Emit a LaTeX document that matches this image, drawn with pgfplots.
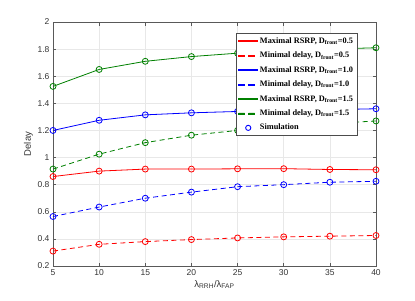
\documentclass[border=0pt]{standalone}
\usepackage{fontspec}
\setmainfont{Liberation Sans}
\newfontfamily\legfont{Liberation Serif}
\usepackage{pgfplots}
\pgfplotsset{compat=1.18}
\definecolor{mgreen}{rgb}{0,0.5,0}
\definecolor{mblue}{rgb}{0,0,1}
\definecolor{mred}{rgb}{1,0,0}
\definecolor{axgray}{gray}{0.35}
\newcommand\legline[2]{\pgfsetstrokecolor{#1}\pgfsetfillcolor{#1}\color{#1}\fill[#1] (0pt,-0.45pt) rectangle (19pt,0.45pt);}
\newcommand\legdash[1]{\pgfsetstrokecolor{#1}\pgfsetfillcolor{#1}\color{#1}\fill[#1] (0pt,-0.45pt) rectangle (6pt,0.45pt) (10pt,-0.45pt) rectangle (16pt,0.45pt);}
\begin{document}
\begin{tikzpicture}
\begin{axis}[
  scale only axis,
  width=323pt, height=244pt,
  xmin=5, xmax=40, ymin=0.2, ymax=2,
  xtick={5,10,...,40},
  ytick={0.2,0.4,...,2.0},
  yticklabels={0.2,0.4,0.6,0.8,1,1.2,1.4,1.6,1.8,2},
  grid=major,
  major grid style={gray!18, line width=0.5pt},
  axis line style={axgray, line width=0.5pt},
  tick style={axgray, line width=0.5pt},
  tick align=inside,
  major tick length=3.5pt,
  tick label style={font=\fontsize{8.5}{10}\selectfont, text=black!80},
  /pgf/number format/assume math mode=true,
  xlabel={λ\textsubscript{RRH}/λ\textsubscript{FAP}},
  ylabel={Delay},
  label style={font=\fontsize{9.5}{11}\selectfont, text=black!80},
  xlabel style={yshift=2pt},
  ylabel style={yshift=-2pt},
  legend style={at={(0.942,0.954)}, anchor=north east,
    font=\legfont\bfseries\fontsize{8.3}{9}\selectfont,
    draw=black!70, fill=white, line width=0.5pt,
    row sep=3.2pt, inner sep=2pt},
  legend cell align=left,
]
\pgfplotsset{
  sim/.style={only marks, mark=o, mark size=3pt, line width=0.8pt, forget plot},
  ln/.style={forget plot, line width=0.8pt},
  dsh/.style={dash pattern=on 5pt off 3.5pt},
}
% legend images
\addlegendimage{legend image code/.code={\legline{mred}{}}}
\addlegendentry{Maximal RSRP, D\textsubscript{front}=0.5}
\addlegendimage{legend image code/.code={\legdash{mred}}}
\addlegendentry{Minimal delay, D\textsubscript{front}=0.5}
\addlegendimage{legend image code/.code={\legline{mblue}{}}}
\addlegendentry{Maximal RSRP, D\textsubscript{front}=1.0}
\addlegendimage{legend image code/.code={\legdash{mblue}}}
\addlegendentry{Minimal delay, D\textsubscript{front}=1.0}
\addlegendimage{legend image code/.code={\legline{mgreen}{}}}
\addlegendentry{Maximal RSRP, D\textsubscript{front}=1.5}
\addlegendimage{legend image code/.code={\legdash{mgreen}}}
\addlegendentry{Minimal delay, D\textsubscript{front}=1.5}
\addlegendimage{legend image code/.code={\pgfsetstrokecolor{mblue}\color{mblue}\draw[draw=mblue, line width=0.9pt] (9.5pt,0pt) circle[radius=2.6pt];}}
\addlegendentry{Simulation}
% lines
\addplot[ln, mred] coordinates {(5,0.86)(10,0.90)(15,0.915)(20,0.915)(25,0.917)(30,0.918)(35,0.912)(40,0.91)};
\addplot[ln, mred, dsh] coordinates {(5,0.31)(10,0.36)(15,0.38)(20,0.395)(25,0.407)(30,0.415)(35,0.42)(40,0.425)};
\addplot[ln, mblue] coordinates {(5,1.20)(10,1.275)(15,1.315)(20,1.33)(25,1.34)(30,1.347)(35,1.353)(40,1.36)};
\addplot[ln, mblue, dsh] coordinates {(5,0.565)(10,0.635)(15,0.70)(20,0.745)(25,0.785)(30,0.80)(35,0.818)(40,0.825)};
\addplot[ln, mgreen] coordinates {(5,1.525)(10,1.65)(15,1.71)(20,1.745)(25,1.77)(30,1.785)(35,1.80)(40,1.81)};
\addplot[ln, mgreen, dsh] coordinates {(5,0.915)(10,1.025)(15,1.11)(20,1.165)(25,1.20)(30,1.23)(35,1.25)(40,1.27)};
% simulation markers
\addplot[sim, mred] coordinates {(5,0.86)(10,0.90)(15,0.915)(20,0.915)(25,0.917)(30,0.918)(35,0.912)(40,0.91)};
\addplot[sim, mred] coordinates {(5,0.31)(10,0.36)(15,0.38)(20,0.395)(25,0.407)(30,0.415)(35,0.42)(40,0.425)};
\addplot[sim, mblue] coordinates {(5,1.20)(10,1.275)(15,1.315)(20,1.33)(25,1.34)(30,1.347)(35,1.353)(40,1.36)};
\addplot[sim, mblue] coordinates {(5,0.565)(10,0.635)(15,0.70)(20,0.745)(25,0.785)(30,0.80)(35,0.818)(40,0.825)};
\addplot[sim, mgreen] coordinates {(5,1.525)(10,1.65)(15,1.71)(20,1.745)(25,1.77)(30,1.785)(35,1.80)(40,1.81)};
\addplot[sim, mgreen] coordinates {(5,0.915)(10,1.025)(15,1.11)(20,1.165)(25,1.20)(30,1.23)(35,1.25)(40,1.27)};
\end{axis}
\path (current axis.south west) ++(-53pt,-34pt) coordinate (bbsw);
\path (current axis.north east) ++(39pt,22pt) coordinate (bbne);
\path (bbsw) rectangle (bbne);
\end{tikzpicture}
\end{document}
